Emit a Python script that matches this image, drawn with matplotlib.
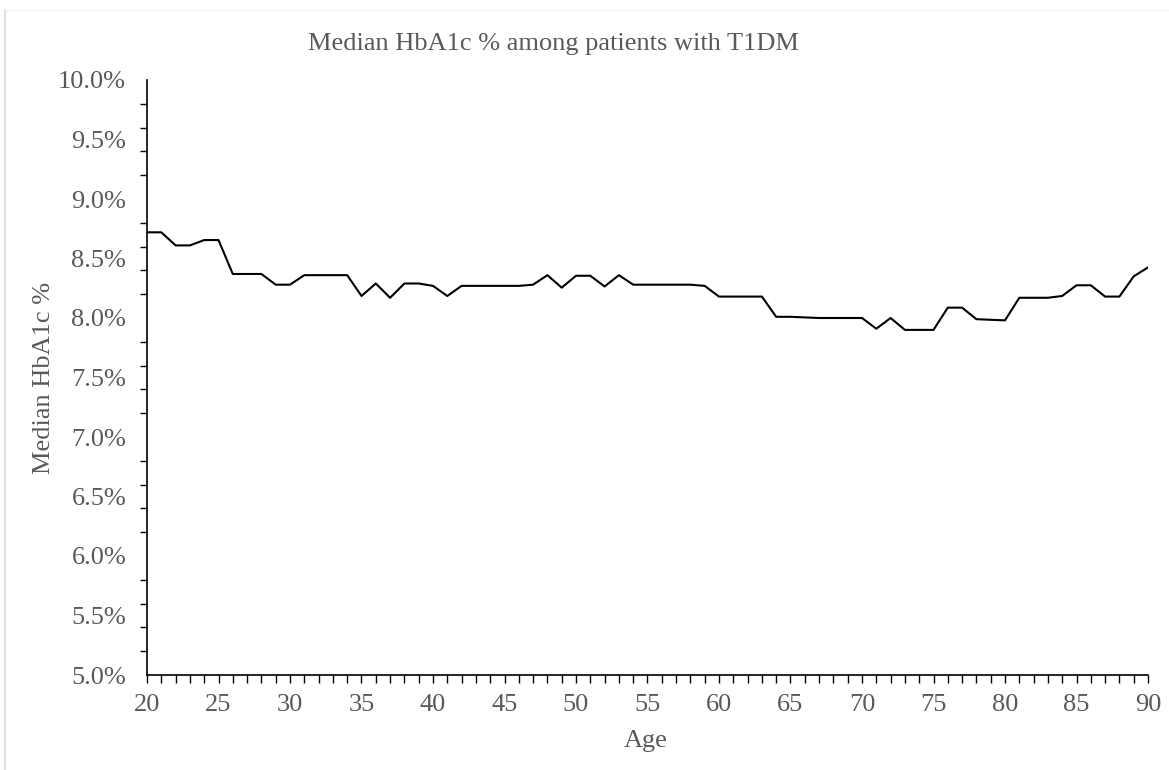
import matplotlib
matplotlib.use("Agg")
import matplotlib.pyplot as plt
from matplotlib.ticker import MultipleLocator, FuncFormatter
from matplotlib.lines import Line2D

# ages and median HbA1c (%)
ages = list(range(20, 91))
hba1c = [8.72, 8.72, 8.61, 8.61, 8.655, 8.655, 8.37, 8.37, 8.37, 8.28,
         8.28, 8.36, 8.36, 8.36, 8.36, 8.185, 8.29, 8.17, 8.29, 8.29,
         8.27, 8.185, 8.27, 8.27, 8.27, 8.27, 8.27, 8.28, 8.36, 8.255,
         8.355, 8.355, 8.265, 8.36, 8.28, 8.28, 8.28, 8.28, 8.28, 8.27,
         8.18, 8.18, 8.18, 8.18, 8.01, 8.01, 8.005, 8.0, 8.0, 8.0,
         8.0, 7.91, 8.0, 7.90, 7.90, 7.90, 8.087, 8.087, 7.99, 7.985,
         7.98, 8.17, 8.17, 8.17, 8.185, 8.275, 8.275, 8.18, 8.18, 8.35,
         8.425]

title = "Median HbA1c % among patients with T1DM"
xlabel = "Age"
ylabel = "Median HbA1c %"

txt = "#595959"
fs = 19
plt.rcParams['font.family'] = ['Liberation Serif', 'DejaVu Serif']

W, H = 1169, 770
fig = plt.figure(figsize=(W / 100, H / 100), dpi=100)
ax = fig.add_axes([147/W, 1 - 675/H, (1148 - 147)/W, (675 - 80)/H])

ax.plot(ages, hba1c, color="black", lw=1.5)

ax.set_xlim(20, 90)
ax.set_ylim(5.0, 10.0)

ax.xaxis.set_major_locator(MultipleLocator(5))
ax.xaxis.set_minor_locator(MultipleLocator(1))
ax.yaxis.set_major_locator(MultipleLocator(0.5))
ax.yaxis.set_minor_locator(MultipleLocator(0.2))
ax.yaxis.set_major_formatter(FuncFormatter(lambda v, p: f"{v:.1f}%"))

ax.tick_params(axis="x", which="both", direction="out", length=6, width=1,
               color="black", labelsize=fs, labelcolor=txt, pad=8)
ax.tick_params(axis="y", which="major", length=0, labelsize=fs,
               labelcolor=txt, pad=15)
ax.tick_params(axis="y", which="minor", direction="out", length=5, width=1,
               color="black")

for s in ("top", "right"):
    ax.spines[s].set_visible(False)
for s in ("left", "bottom"):
    ax.spines[s].set_linewidth(1.2)
    ax.spines[s].set_color("black")

# axis titles and chart title placed by hand
fig.text(646/W, 1 - 747/H, xlabel, fontsize=fs, color=txt,
         ha="center", va="baseline")
fig.text(50/W, 1 - 377.5/H, ylabel, fontsize=fs, color=txt, rotation=90,
         rotation_mode="anchor", ha="center", va="baseline")
fig.text(553/W, 1 - 50/H, title, fontsize=fs, color=txt,
         ha="center", va="baseline")

# chart area border (cropped)
fig.add_artist(Line2D([5/W, 5/W], [0, 1 - 10/H],
                      transform=fig.transFigure, color="#d9d9d9", lw=1.2))
fig.add_artist(Line2D([5/W, 1], [1 - 10/H, 1 - 10/H],
                      transform=fig.transFigure, color="#f2f2f2", lw=1.0))

fig.savefig("out.png", dpi=100)
